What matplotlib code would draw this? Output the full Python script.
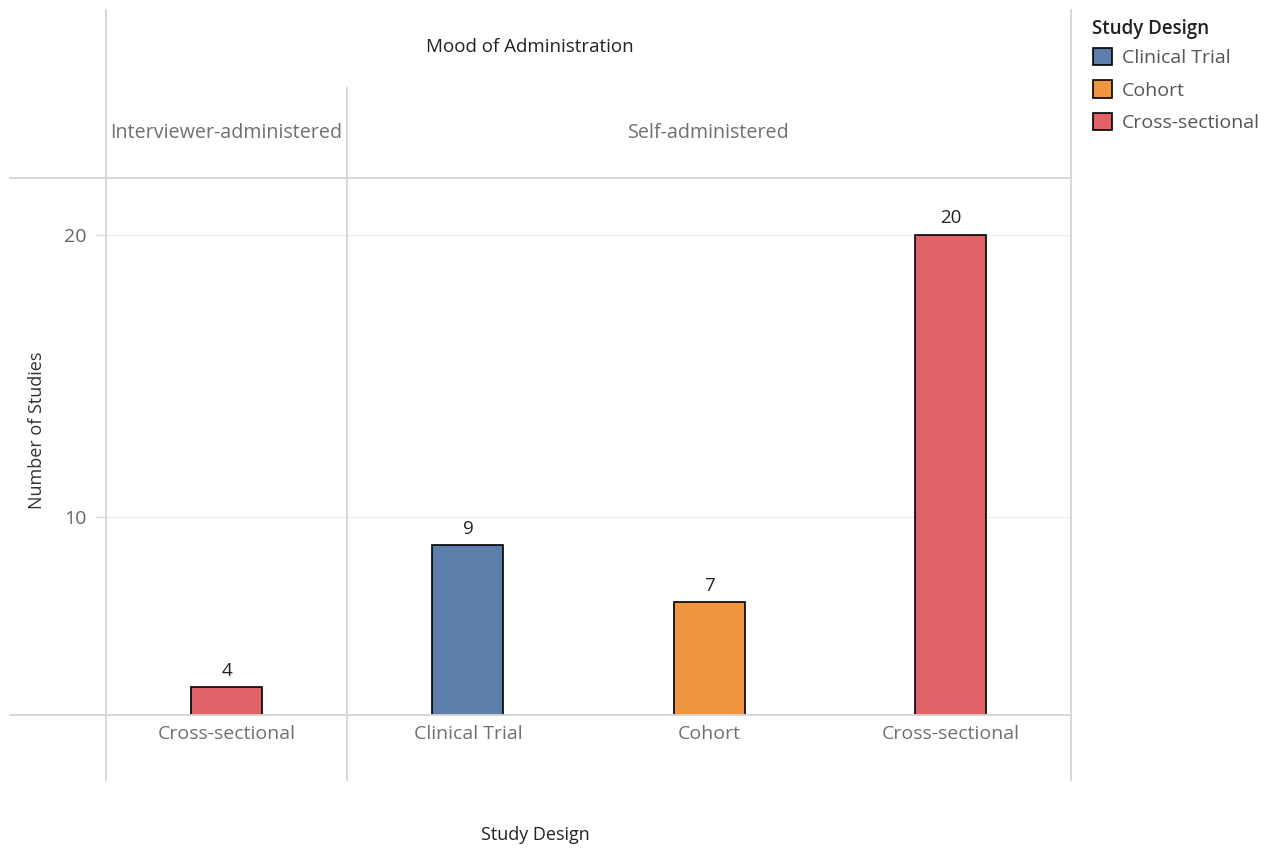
import matplotlib
matplotlib.use('Agg')
import matplotlib.pyplot as plt
from matplotlib.lines import Line2D
from matplotlib.patches import Patch

plt.rcParams['font.family'] = ['Open Sans', 'DejaVu Sans']

panes = ["Interviewer-administered", "Self-administered", "Self-administered", "Self-administered"]
designs = ["Cross-sectional", "Clinical Trial", "Cohort", "Cross-sectional"]
counts = [4, 9, 7, 20]

legend_names = ["Clinical Trial", "Cohort", "Cross-sectional"]
colors = {"Clinical Trial": "#5b7faa", "Cohort": "#f09540", "Cross-sectional": "#e06266"}

W, H = 1277, 851
fig = plt.figure(figsize=(W / 100, H / 100), dpi=100)


def fx(px):
    return px / W


def fy(py):
    return 1 - py / H


# plot area in pixel coords
left, right, top, bottom = 106, 1071, 178, 715
ax = fig.add_axes([fx(left), fy(bottom), fx(right - left), fy(top) - fy(bottom)])

x = [i + 0.5 for i in range(len(counts))]
bar_colors = [colors[d] for d in designs]
ax.bar(x, counts, width=0.295, color=bar_colors, edgecolor='black', linewidth=1.2, zorder=3)
for xi, c in zip(x, counts):
    ax.text(xi, c + 0.25, str(c), ha='center', va='bottom', fontsize=13.5, color='#222222')

ax.set_xlim(0, len(counts))
ax.set_ylim(3, 22)
ax.set_yticks([10, 20])
ax.set_yticklabels(["10", "20"], fontsize=14, color='#666666')
ax.tick_params(axis='y', length=8, color='#dddddd', width=1, pad=6)
ax.set_xticks([])
ax.grid(axis='y', color='#eeeeee', linewidth=1, zorder=0)
for s in ax.spines.values():
    s.set_visible(False)

# divider lines around the panes and headers
line_kw = dict(color='#d4d4d4', linewidth=1.3, transform=fig.transFigure)
segments = [
    ((10, 1071), (178, 178)),
    ((10, 1071), (715, 715)),
    ((106, 106), (10, 780)),
    ((347, 347), (88, 780)),
    ((1071, 1071), (10, 780)),
]
for (x0, x1), (y0, y1) in segments:
    fig.add_artist(Line2D([fx(x0), fx(x1)], [fy(y0), fy(y1)], **line_kw))

# header rows
fig.text(fx(530), fy(47), "Mood of Administration", ha='center', va='center', fontsize=13.5, color='#222222')
fig.text(fx(226), fy(133), "Interviewer-administered", ha='center', va='center', fontsize=14.2, color='#707070')
fig.text(fx(709), fy(133), "Self-administered", ha='center', va='center', fontsize=14.2, color='#707070')

# category labels under the axis
for xi, d in zip(x, designs):
    ax.text(xi, -0.035, d, transform=ax.get_xaxis_transform(), ha='center', va='center',
            fontsize=14, color='#707070')

fig.text(fx(37), fy(430), "Number of Studies", rotation=90, ha='center', va='center', fontsize=13, color='#333333')
fig.text(fx(535), fy(835), "Study Design", ha='center', va='center', fontsize=13, color='#222222')

# legend: title as its own text, entries below
fig.text(fx(1092), fy(29), "Study Design", ha='left', va='center', fontsize=13.5,
         fontweight='semibold', color='#222222')
handles = [Patch(facecolor=colors[n], edgecolor='black', linewidth=1.2) for n in legend_names]
leg = fig.legend(handles, legend_names, loc='upper left', bbox_to_anchor=(fx(1085), fy(40)),
                 frameon=False, fontsize=14, handlelength=1.0, handleheight=1.0,
                 handletextpad=0.5, labelspacing=0.68, borderaxespad=0)
for t in leg.get_texts():
    t.set_color('#555555')

fig.savefig('out.png', dpi=100)
